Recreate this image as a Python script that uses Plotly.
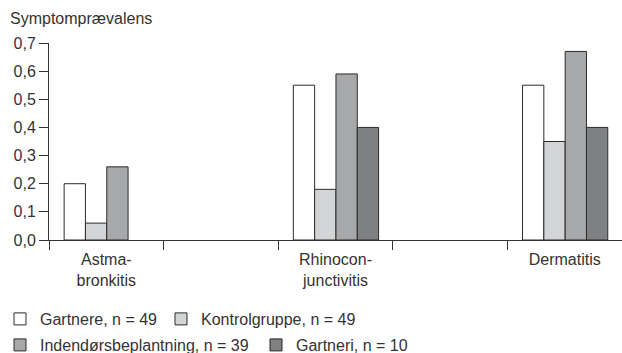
import plotly.graph_objects as go

slots = [0.5, 1.5, 2.5, 3.5, 4.5]
category_labels = ["Astma-<br>bronkitis", "", "Rhinocon-<br>junctivitis", "", "Dermatitis"]
categories_x = [0.5, 2.5, 4.5]

series_names = ["Gartnere, n = 49", "Kontrolgruppe, n = 49",
                "Indendørsbeplantning, n = 39", "Gartneri, n = 10"]
gartnere = [0.20, 0.55, 0.55]
kontrol = [0.06, 0.18, 0.35]
indendors = [0.26, 0.59, 0.67]
gartneri = [None, 0.40, 0.40]
colors = ["#ffffff", "#d3d4d5", "#a7a8aa", "#7f8082"]

y_ticks = [0.0, 0.1, 0.2, 0.3, 0.4, 0.5, 0.6, 0.7]
y_tick_labels = ["0,0", "0,1", "0,2", "0,3", "0,4", "0,5", "0,6", "0,7"]

FONT = "Liberation Sans"
TXT = "#333333"
W, H = 622, 353

bar_w = 0.186
offsets = [-0.368, -0.182, 0.004, 0.19]
legend_ids = ["legend", "legend2", "legend3", "legend4"]
# legend item placement (left x px, centre y px)
legend_pos = [(0, 319), (161, 319), (0, 345), (256, 345)]

fig = go.Figure()
for name, vals, col, off, lid in zip(series_names, [gartnere, kontrol, indendors, gartneri],
                                      colors, offsets, legend_ids):
    fig.add_trace(go.Bar(
        x=categories_x, y=vals, name=name, width=bar_w, offset=off,
        marker=dict(color=col, line=dict(color="#2b2b2b", width=1)),
        legend=lid, showlegend=True,
    ))

legends = {}
for lid, (lx, ly) in zip(legend_ids, legend_pos):
    legends[lid] = dict(orientation="h", x=lx / W, xanchor="left",
                        y=1 - ly / H, yanchor="middle",
                        xref="container", yref="container",
                        bgcolor="rgba(0,0,0,0)", borderwidth=0,
                        font=dict(family=FONT, size=16, color=TXT), itemwidth=30)

fig.update_layout(
    template="none",
    width=W, height=H,
    margin=dict(l=49, r=0, t=43, b=113, autoexpand=False),
    plot_bgcolor="white", paper_bgcolor="white",
    barmode="overlay",
    font=dict(family=FONT, size=16, color=TXT),
    title=dict(text="Symptomprævalens", x=10 / W, xanchor="left", y=1 - 18 / H, yanchor="middle",
               xref="container", yref="container",
               font=dict(family=FONT, size=16, color=TXT)),
    xaxis=dict(range=[0, 5], tickvals=slots, ticktext=category_labels,
               ticks="outside", ticklen=5, tickcolor="rgba(0,0,0,0)",
               showgrid=False, zeroline=False, automargin=False,
               showline=True, linecolor="#333333", linewidth=1,
               tickfont=dict(family=FONT, size=16, color=TXT),
               minor=dict(tickvals=[0, 1, 2, 3, 4, 5], ticks="outside",
                          ticklen=9, tickcolor="#333333", tickwidth=1, showgrid=False)),
    yaxis=dict(range=[0, 0.7], tickvals=y_ticks, ticktext=y_tick_labels,
               ticks="outside", ticklen=9, tickcolor="#333333", tickwidth=1,
               showgrid=False, zeroline=False, automargin=False,
               showline=True, linecolor="#333333", linewidth=1,
               tickfont=dict(family=FONT, size=16, color=TXT)),
    **legends,
)

fig.write_html("out.html", config={"displayModeBar": False},
               post_script="document.body.style.margin='0';document.body.style.overflow='hidden';")
